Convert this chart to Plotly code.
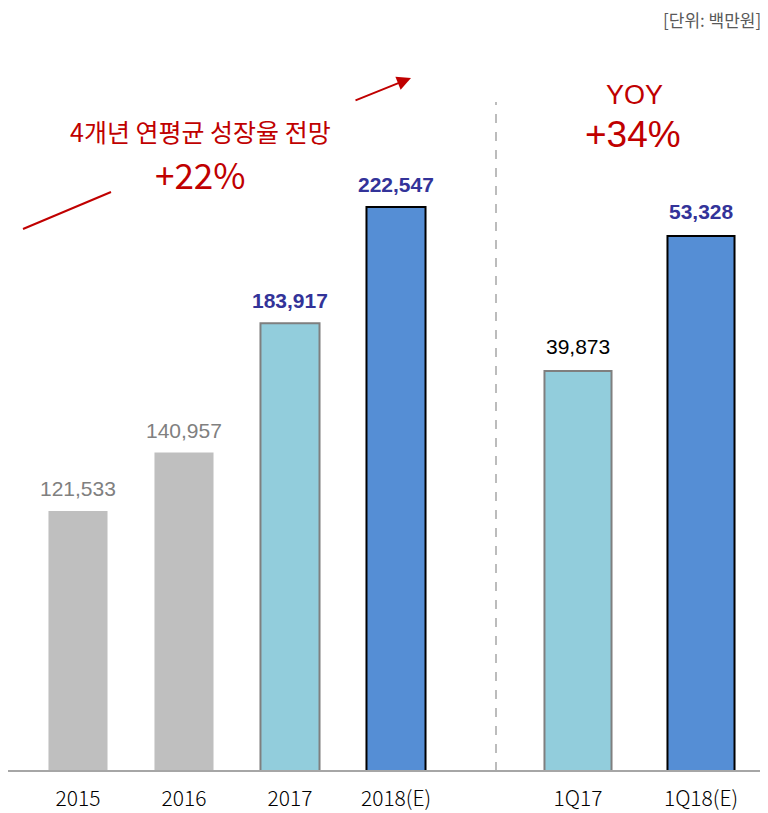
import plotly.graph_objects as go

# page is rendered with an 8px body margin, so figure = page - 8
OFF = 8
W, H = 768 - OFF, 813 - OFF
BASE = 771  # page pixel y of baseline

annual_cats = ["2015", "2016", "2017", "2018(E)"]
annual_vals = [121533, 140957, 183917, 222547]
quarter_cats = ["1Q17", "1Q18(E)"]
quarter_vals = [39873, 53328]

annual_colors = ["#BFBFBF", "#BFBFBF", "#92CDDC", "#558ED5"]
annual_lines = ["#BFBFBF", "#BFBFBF", "#7F7F7F", "#000000"]
annual_lw = [0, 0, 2, 2]
annual_lab_col = ["#808080", "#808080", "#333399", "#333399"]
annual_lab_bold = [False, False, True, True]

quarter_colors = ["#92CDDC", "#558ED5"]
quarter_lines = ["#7F7F7F", "#000000"]
quarter_lab_col = ["#000000", "#333399"]
quarter_lab_bold = [False, True]

RED = "#C00000"
KR = "Noto Sans CJK KR"
LAT = "Liberation Sans, Arial"
TICKF = "Noto Sans CJK KR"
PLOT_H = BASE - OFF

def px(x):
    return (x - OFF) / W

def py(y):
    return (BASE - y) / PLOT_H

fig = go.Figure()
fig.add_trace(go.Bar(
    x=annual_cats, y=annual_vals, width=0.557,
    marker=dict(color=annual_colors, line=dict(color=annual_lines, width=annual_lw)),
    xaxis="x", yaxis="y", showlegend=False, hoverinfo="skip"))
fig.add_trace(go.Bar(
    x=quarter_cats, y=quarter_vals, width=0.545,
    marker=dict(color=quarter_colors, line=dict(color=quarter_lines, width=2)),
    xaxis="x2", yaxis="y2", showlegend=False, hoverinfo="skip"))

ann = []
for i, (v, col, b) in enumerate(zip(annual_vals, annual_lab_col, annual_lab_bold)):
    ann.append(dict(x=i, y=v, xref="x", yref="y", text=(f"<b>{v:,}</b>" if b else f"{v:,}"),
                    showarrow=False, xanchor="center", yanchor="bottom", yshift=9,
                    font=dict(family=LAT, size=21, color=col)))
for i, (v, col, b) in enumerate(zip(quarter_vals, quarter_lab_col, quarter_lab_bold)):
    ann.append(dict(x=i, y=v, xref="x2", yref="y2", text=(f"<b>{v:,}</b>" if b else f"{v:,}"),
                    showarrow=False, xanchor="center", yanchor="bottom", yshift=11,
                    font=dict(family=LAT, size=21, color=col)))

def txt(x, y, t, size, color=RED, xanchor="center", family=KR):
    return dict(x=px(x), y=py(y), xref="paper", yref="paper", text=t, showarrow=False,
                xanchor=xanchor, yanchor="middle", font=dict(family=family, size=size, color=color))

ann += [
    txt(200, 131, "4개년 연평균 성장율 전망", 25),
    txt(200, 173, "+22%", 35),
    txt(634, 95, "YOY", 27, family=LAT),
    txt(633, 134, "+34%", 37, family=LAT),
    txt(763, 20, "[단위: 백만원]", 17, color="#595959", xanchor="right"),
    dict(x=px(411), y=py(78), xref="paper", yref="paper",
         text="", showarrow=True, arrowhead=2, arrowsize=1.4, arrowwidth=2,
         arrowcolor=RED, ax=-57, ay=23, axref="pixel", ayref="pixel"),
]

shapes = [
    dict(type="line", xref="paper", yref="paper",
         x0=0, x1=1, y0=0, y1=0, line=dict(color="#A6A6A6", width=2)),
    dict(type="line", xref="paper", yref="paper",
         x0=px(496), x1=px(496), y0=0, y1=py(102),
         line=dict(color="#A6A6A6", width=1.5, dash="dash")),
    dict(type="line", xref="paper", yref="paper",
         x0=px(23), y0=py(229), x1=px(111), y1=py(192),
         line=dict(color=RED, width=2)),
]

fig.update_layout(
    width=W, height=H,
    margin=dict(l=0, r=0, t=0, b=H - PLOT_H),
    paper_bgcolor="white", plot_bgcolor="white",
    xaxis=dict(domain=[0, px(496)], range=[(8 - 78) / 106, (496 - 78) / 106], type="category",
               showgrid=False, showline=False, ticks="", zeroline=False,
               tickfont=dict(family=TICKF, size=21, color="#000000", weight=300), ticklabelstandoff=13),
    xaxis2=dict(domain=[px(496), 1], range=[(496 - 578) / 123, (768 - 578) / 123], type="category",
                showgrid=False, showline=False, ticks="", zeroline=False,
                tickfont=dict(family=TICKF, size=21, color="#000000", weight=300), ticklabelstandoff=13),
    yaxis=dict(range=[35117, 35117 + PLOT_H / 0.003009], visible=False, anchor="x"),
    yaxis2=dict(range=[0, PLOT_H / 0.010033], visible=False, anchor="x2"),
    annotations=ann, shapes=shapes,
)

fig.write_html("out.html")
